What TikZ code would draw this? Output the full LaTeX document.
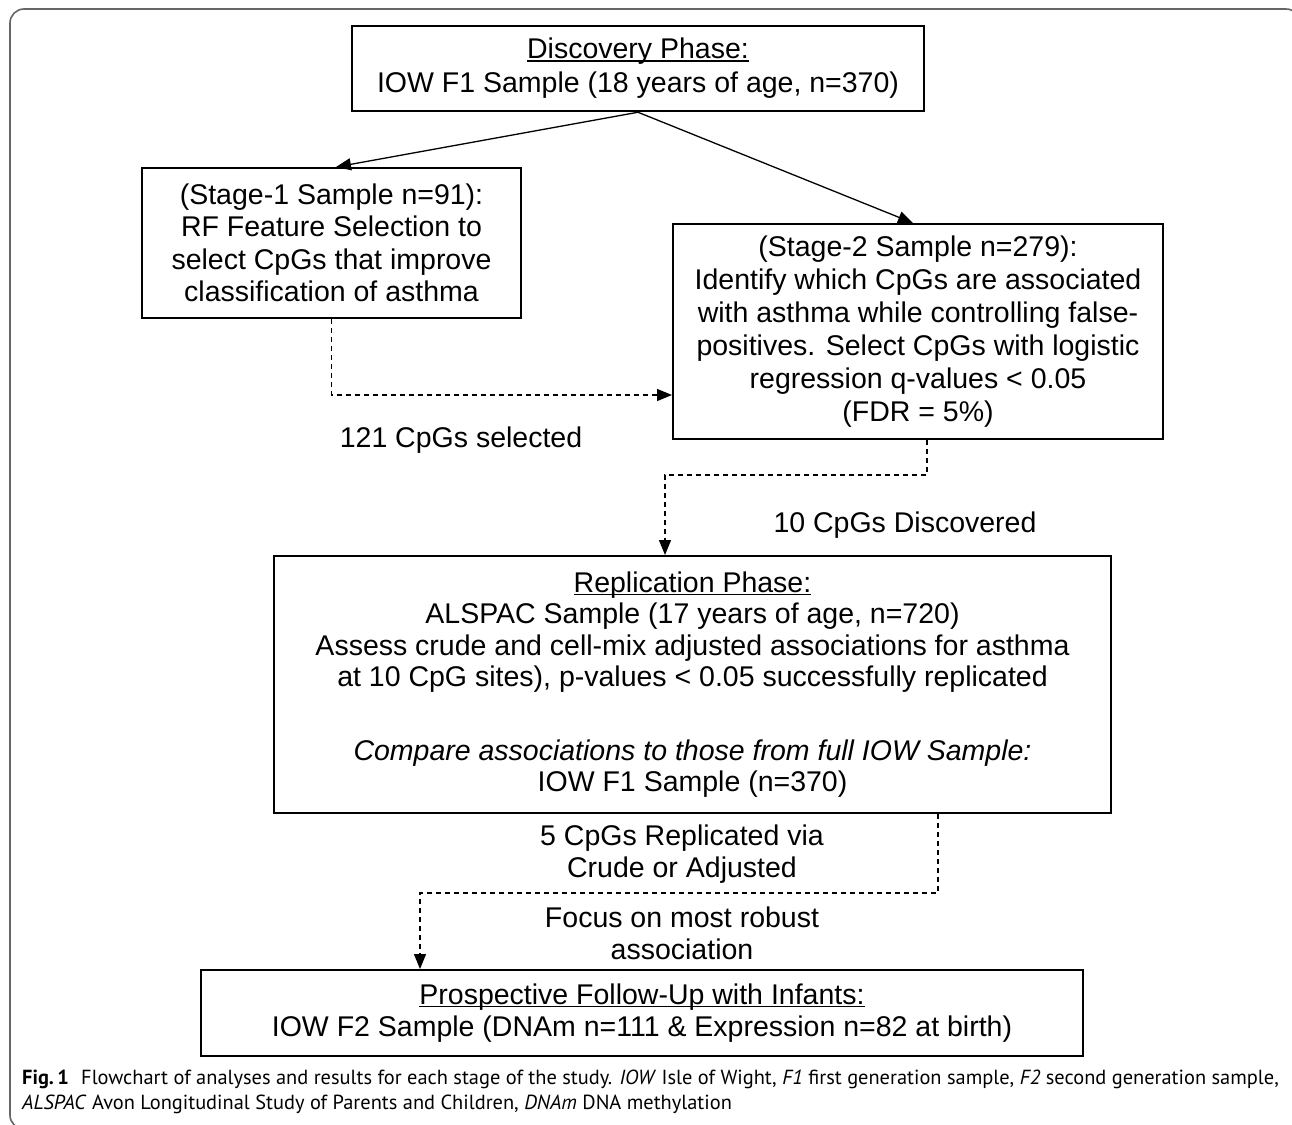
\documentclass[tikz,border=0pt]{standalone}
\usepackage{fontspec}
\setmainfont{Liberation Sans}
\newfontfamily\capfont{PT Sans}
\usetikzlibrary{arrows.meta,calc}
\newcommand\ulx[1]{\setbox0\hbox{#1}\rlap{\rule[-3.2pt]{\wd0}{1.8pt}}\box0}
\tikzset{
  boxx/.style={draw=black, line width=2pt, inner sep=0pt, align=center,
    font=\fontsize{28.5}{32.5}\selectfont},
  sol/.style={line width=1.3pt, -{Triangle[length=15pt,width=12pt]}},
  dsh/.style={line width=1.3pt, dash pattern=on 5pt off 4pt, -{Triangle[length=15pt,width=12pt]}},
  lbl/.style={inner sep=0pt, align=center, font=\fontsize{28.5}{32.5}\selectfont}
}
\begin{document}
\begin{tikzpicture}[x=1pt,y=-1pt]
\useasboundingbox (0,0) rectangle (1292,1124);
\fill[white] (0,0) rectangle (1292,1124);
\draw[line width=1.6pt, draw=black!60, rounded corners=14pt] (10,9) rectangle (1300,1129);

\node[boxx, minimum width=572pt, minimum height=85.5pt] (b1) at (638,68.5)
  {\ulx{Discovery Phase:}\\[1.5pt] IOW F1 Sample (18 years of age, n=370)};
\node[boxx, minimum width=379pt, minimum height=150pt] (b2) at (331.5,243)
  {(Stage-1 Sample n=91):\\ RF Feature Selection to\\ select CpGs that improve\\ classification of asthma};
\node[boxx, minimum width=490pt, minimum height=215pt, font=\fontsize{28.5}{33}\selectfont] (b3) at (918,331.5)
  {(Stage-2 Sample n=279):\\ Identify which CpGs are associated\\ with asthma while controlling false-\\ positives. Select CpGs with logistic\\ regression q-values < 0.05\\ (FDR = 5\%)};
\node[boxx, minimum width=837pt, minimum height=257pt, font=\fontsize{28.5}{31.5}\selectfont] (b4) at (692.5,684.5)
  {\ulx{Replication Phase:}\\ ALSPAC Sample (17 years of age, n=720)\\ Assess crude and cell-mix adjusted associations for asthma\\ at 10 CpG sites), p-values < 0.05 successfully replicated\\[42pt] \textit{Compare associations to those from full IOW Sample:}\\ IOW F1 Sample (n=370)};
\node[boxx, minimum width=882pt, minimum height=86pt] (b5) at (642,1013)
  {\ulx{Prospective Follow-Up with Infants:}\\ IOW F2 Sample (DNAm n=111 \& Expression n=82 at birth)};

\node[lbl] (l1) at (461,440) {121 CpGs selected};
\node[lbl] (l2) at (905,525) {10 CpGs Discovered};
\node[lbl] (l3) at (682,854) {5 CpGs Replicated via\\ Crude or Adjusted};
\node[lbl] (l4) at (682,933.5) {Focus on most robust\\ association};

\draw[sol] (b1.south) -- ([xshift=4.5pt]b2.north);
\draw[sol] (b1.south) -- ([xshift=-5pt]b3.north);
\draw[dsh] (b2.south) |- ([yshift=-63.5pt]b3.west);
\draw[dsh] ([xshift=9pt]b3.south) -- ++(0,35) -| ([xshift=-27.5pt]b4.north);
\draw[dsh] ([xshift=245.5pt]b4.south) -- ++(0,79) -| ([xshift=-222pt]b5.north);

\node[anchor=north west, inner sep=0pt, align=left, font=\capfont\fontsize{20.4}{25}\selectfont] (cap) at (22,1070)
  {\textbf{Fig.\,1}\hspace{0.6em}Flowchart of analyses and results for each stage of the study. \textit{IOW} Isle of Wight, \textit{F1} first generation sample, \textit{F2} second generation sample,\\ \textit{ALSPAC} Avon Longitudinal Study of Parents and Children, \textit{DNAm} DNA methylation};
\end{tikzpicture}
\end{document}
